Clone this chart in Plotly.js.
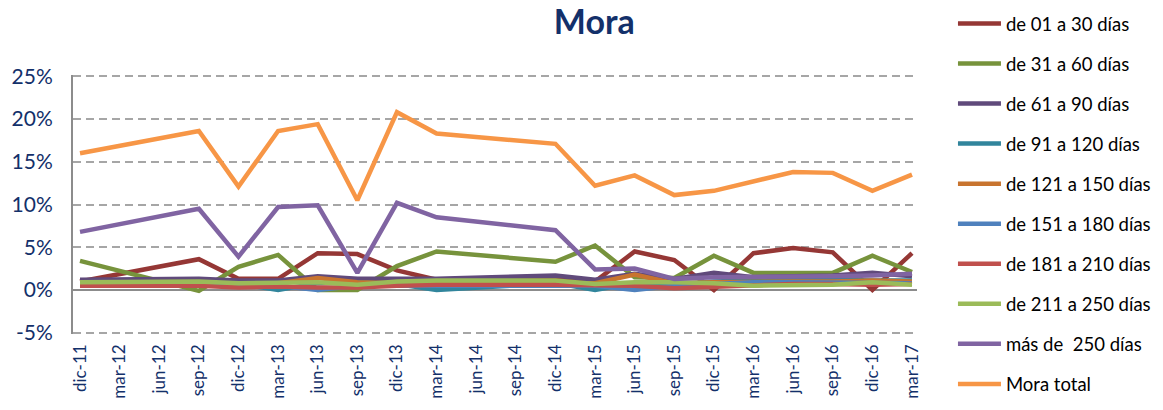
<!DOCTYPE html>
<html>
<head>
<meta charset="utf-8">
<script src="https://cdn.plot.ly/plotly-3.0.1.min.js"></script>
<style>html,body{margin:0;padding:0;background:#fff;}#chart{width:1163px;height:410px;}</style>
</head>
<body>
<div id="chart"></div>
<script>
var categories = ['dic-11','mar-12','jun-12','sep-12','dic-12','mar-13','jun-13','sep-13','dic-13','mar-14','jun-14','sep-14','dic-14','mar-15','jun-15','sep-15','dic-15','mar-16','jun-16','sep-16','dic-16','mar-17'];

var seriesNames = ['de 01 a 30 días','de 31 a 60 días','de 61 a 90 días','de 91 a 120 días','de 121 a 150 días','de 151 a 180 días','de 181 a 210 días','de 211 a 250 días','más de  250 días','Mora total'];

var d01_30   = [1.0, null, null, 3.6, 1.3, 1.3, 4.3, 4.2, 2.3, 1.2, null, null, 1.2, 1.0, 4.5, 3.5, 0.0, 4.3, 4.9, 4.4, 0.0, 4.3];
var d31_60   = [3.4, null, null, -0.1, 2.7, 4.1, 0.0, 0.0, 2.8, 4.5, null, null, 3.3, 5.2, 1.5, 1.4, 4.0, 2.0, 2.0, 2.0, 4.0, 2.1];
var d61_90   = [1.2, null, null, 1.3, 1.1, 1.1, 1.6, 1.3, 1.3, 1.3, null, null, 1.7, 1.2, 1.9, 1.3, 2.0, 1.5, 1.6, 1.7, 2.0, 1.6];
var d91_120  = [0.7, null, null, 0.7, 0.7, 0.0, 0.8, 0.9, 0.7, 0.0, null, null, 0.8, 0.0, 0.8, 0.6, 1.0, 1.1, 1.2, 1.2, 1.1, 1.1];
var d121_150 = [0.8, null, null, 0.8, 0.7, 0.8, 1.4, 0.9, 0.8, 0.8, null, null, 0.9, 0.8, 1.8, 0.8, 0.9, 1.0, 1.0, 1.0, 1.1, 1.0];
var d151_180 = [0.6, null, null, 0.6, 0.5, 0.5, 0.0, 0.5, 0.5, 0.5, null, null, 0.5, 0.5, 0.0, 0.5, 0.7, 0.9, 0.9, 0.9, 0.8, 0.8];
var d181_210 = [0.5, null, null, 0.5, 0.3, 0.4, 0.3, 0.3, 0.5, 0.6, null, null, 0.6, 0.5, 0.5, 0.2, 0.4, 0.6, 0.7, 0.7, 0.6, 0.7];
var d211_250 = [0.9, null, null, 1.0, 0.8, 0.8, 0.9, 0.6, 1.0, 1.1, null, null, 1.1, 0.7, 0.9, 0.9, 0.8, 0.5, 0.6, 0.6, 0.9, 0.6];
var mas250   = [6.8, null, null, 9.5, 3.9, 9.7, 9.9, 2.0, 10.2, 8.5, null, null, 7.0, 2.4, 2.5, 1.3, 1.5, 1.5, 1.6, 1.6, 1.7, 1.9];
var moraTotal= [16.0, null, null, 18.6, 12.1, 18.6, 19.4, 10.5, 20.8, 18.3, null, null, 17.1, 12.2, 13.4, 11.1, 11.6, 12.7, 13.8, 13.7, 11.6, 13.5];

var yTickVals = [-5, 0, 5, 10, 15, 20, 25];
var yTickText = ['-5%', '0%', '5%', '10%', '15%', '20%', '25%'];

var seriesData = [d01_30, d31_60, d61_90, d91_120, d121_150, d151_180, d181_210, d211_250, mas250, moraTotal];
var colors = ['#953735', '#77933C', '#604A7B', '#31859C', '#C8742F', '#4F81BD', '#C0504D', '#9BBB59', '#8064A2', '#F79646'];

var traces = seriesData.map(function (vals, i) {
  return {
    type: 'scatter',
    mode: 'lines',
    x: categories,
    y: vals,
    name: seriesNames[i],
    legendgroup: 'g' + i,
    connectgaps: true,
    line: { color: colors[i], width: 4.5 },
    hoverinfo: 'x+y+name'
  };
});

var navy = '#13306A';
var layout = {
  width: 1163,
  height: 410,
  paper_bgcolor: '#ffffff',
  plot_bgcolor: '#ffffff',
  margin: { l: 73, r: 246, t: 75, b: 76 },
  font: { family: 'Lato, "Open Sans", sans-serif', color: navy },
  title: {
    text: '<b>Mora</b>',
    font: { family: 'Lato, "Open Sans", sans-serif', size: 34, color: navy },
    x: 0.511, xanchor: 'center', xref: 'container',
    y: 0.945, yanchor: 'middle', yref: 'container'
  },
  xaxis: {
    type: 'category',
    range: [-0.177, 21.126],
    showgrid: false,
    showline: false,
    zeroline: false,
    ticks: '',
    tickangle: -90,
    tickfont: { size: 17, color: navy },
    ticklabelstandoff: 6
  },
  yaxis: {
    range: [-5.15, 25.15],
    tickvals: yTickVals,
    ticktext: yTickText,
    showgrid: true,
    gridcolor: '#A6A6A6',
    gridwidth: 2,
    griddash: '8px,5px',
    zeroline: true,
    zerolinecolor: '#8C8C8C',
    zerolinewidth: 2,
    showline: true,
    linecolor: '#8C8C8C',
    linewidth: 2,
    ticks: '',
    tickfont: { size: 21, color: navy },
    ticklabelstandoff: 14
  },
  showlegend: true,
  legend: {
    xref: 'container', yref: 'container',
    x: 0.8194, y: 0.988,
    xanchor: 'left', yanchor: 'top',
    traceorder: 'grouped',
    tracegroupgap: 13,
    maxheight: 410,
    font: { family: 'Lato, "Open Sans", sans-serif', size: 18.5, color: '#000000' },
    bgcolor: 'rgba(0,0,0,0)',
    itemwidth: 43
  }
};

Plotly.newPlot('chart', traces, layout, { displayModeBar: false, staticPlot: true });
</script>
</body>
</html>
